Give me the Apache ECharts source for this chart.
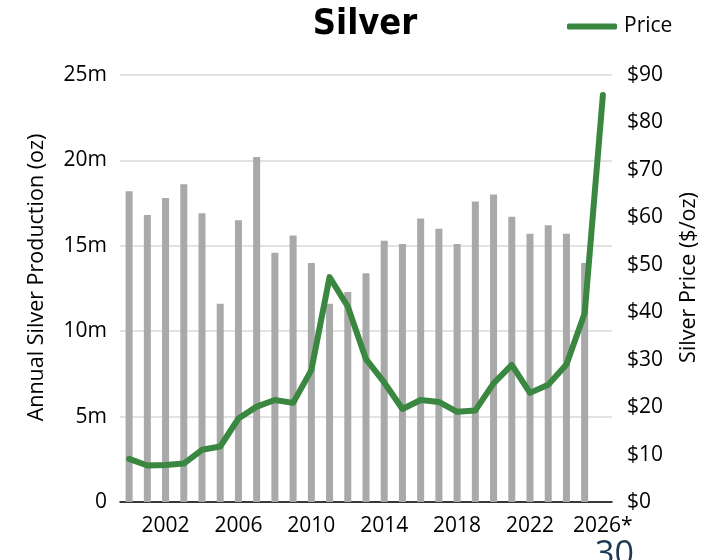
<!DOCTYPE html>
<html>
<head>
<meta charset="UTF-8">
<title>Silver</title>
<script src="https://cdn.jsdelivr.net/npm/echarts@6/dist/echarts.min.js"></script>
<style>
  html, body { margin: 0; padding: 0; background: #fff; }
  #chart { width: 707px; height: 560px; }
</style>
</head>
<body>
<div id="chart"></div>
<script>
// years on the x axis, last one is a forecast
var years = ['2000','2001','2002','2003','2004','2005','2006','2007','2008','2009','2010','2011','2012','2013',
             '2014','2015','2016','2017','2018','2019','2020','2021','2022','2023','2024','2025','2026*'];
// annual silver production, millions of oz
var production = [18.2, 16.8, 17.8, 18.6, 16.9, 11.6, 16.5, 20.2, 14.6, 15.6, 14.0, 11.6, 12.3, 13.4,
                  15.3, 15.1, 16.6, 16.0, 15.1, 17.6, 18.0, 16.7, 15.7, 16.2, 15.7, 14.0, null];
// silver price, $/oz
var price = [9.1, 7.7, 7.8, 8.1, 11.0, 11.7, 17.6, 20.1, 21.5, 20.9, 27.8, 47.4, 41.2, 30.1,
             25.2, 19.6, 21.5, 21.1, 19.0, 19.3, 25.0, 28.9, 23.0, 24.7, 29.0, 39.8, 85.8];

var chart = echarts.init(document.getElementById('chart'));
var font = '"Open Sans", "Noto Sans", sans-serif';

var option = {
  animation: false,
  textStyle: { fontFamily: font },
  title: {
    text: 'Silver',
    left: 360,
    top: 2,
    textAlign: 'center',
    textStyle: { fontFamily: '"Liberation Sans Narrow", "DejaVu Sans Condensed", sans-serif', fontSize: 36, fontWeight: 'bold', color: '#000' }
  },
  legend: {
    data: [{ name: 'Price' }],
    left: 562,
    top: 11,
    itemWidth: 50,
    itemHeight: 6,
    itemGap: 4,
    icon: 'roundRect',
    textStyle: { fontFamily: font, fontSize: 21, color: '#000', padding: [0, 0, 0, 2] }
  },
  grid: { left: 120, right: 95, top: 75, bottom: 58, outerBoundsMode: 'none', containLabel: false },
  xAxis: {
    type: 'category',
    data: years,
    boundaryGap: true,
    axisLine: { lineStyle: { color: '#000', width: 1.5 } },
    axisTick: { show: false },
    axisLabel: {
      interval: function (i) { return (i - 2) % 4 === 0; },
      fontSize: 21, color: '#000', margin: 14
    }
  },
  yAxis: [{
    type: 'value',
    min: 0, max: 25, interval: 5,
    name: 'Annual Silver Production (oz)',
    nameLocation: 'middle',
    nameGap: 72,
    nameTextStyle: { fontSize: 21.5, color: '#000', padding: [0, 0, 0, 22] },
    axisLine: { show: false },
    axisTick: { show: false },
    axisLabel: {
      fontSize: 21, color: '#000', margin: 13,
      formatter: function (v) { return v === 0 ? '0' : v + 'm'; }
    },
    splitLine: { lineStyle: { color: '#d9d9d9', width: 1.5 } }
  }, {
    type: 'value',
    min: 0, max: 90, interval: 10,
    name: 'Silver Price ($/oz)',
    nameLocation: 'middle',
    nameGap: 66,
    nameRotate: 90,
    nameTextStyle: { fontSize: 21.5, color: '#000', padding: [0, 0, 0, 22] },
    axisLine: { show: false },
    axisTick: { show: false },
    axisLabel: {
      fontSize: 21, color: '#000', margin: 15,
      formatter: function (v) { return '$' + v; }
    },
    splitLine: { show: false }
  }],
  series: [{
    name: 'Production',
    type: 'bar',
    data: production,
    barWidth: 7,
    itemStyle: { color: '#a9a9a9' }
  }, {
    name: 'Price',
    type: 'line',
    yAxisIndex: 1,
    data: price,
    showSymbol: false,
    symbol: 'none',
    lineStyle: { color: '#3a8741', width: 6, cap: 'round', join: 'round' },
    itemStyle: { color: '#3a8741' }
  }],
  graphic: [{
    type: 'text',
    left: 595,
    top: 538,
    style: { text: '30', fontSize: 34, fill: '#1d3a55', fontFamily: font }
  }]
};

chart.setOption(option);
</script>
</body>
</html>
